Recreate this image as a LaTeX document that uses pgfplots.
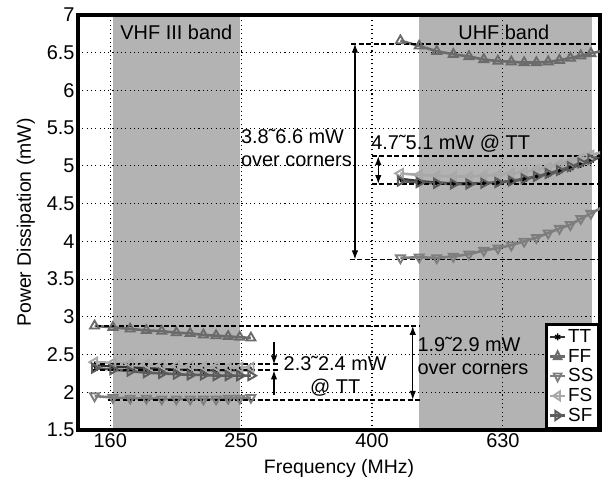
\documentclass[border=0pt]{standalone}
\usepackage{fontspec}
\setmainfont{Liberation Sans}
\usepackage{pgfplots}
\pgfplotsset{compat=1.18}
\usetikzlibrary{arrows.meta}
\definecolor{band}{HTML}{B3B3B3}
\definecolor{ctt}{HTML}{333333}
\definecolor{cff}{HTML}{6B6B6B}
\definecolor{css}{HTML}{7E7E7E}
\definecolor{cfs}{HTML}{A8A8A8}
\definecolor{csf}{HTML}{5C5C5C}

\begin{document}
\begin{tikzpicture}[font=\fontsize{20}{23}\selectfont]
\begin{axis}[
  name=ax, set layers,
  scale only axis, width=522bp, height=415bp,
  xmode=log, xmin=141.5, xmax=888, ymin=1.5, ymax=7,
  xtick={158.49,251.19,398.11,630.96}, xticklabels={160,250,400,630},
  minor xtick={},
  ytick={1.5,2,...,7},
  /pgf/number format/assume math mode=true,
  tick label style={font=\fontsize{20}{23}\selectfont},
  label style={font=\fontsize{19.5}{23}\selectfont},
  grid=major,
  major grid style={black, line width=1.1bp, dash pattern=on 1.1bp off 3.2bp},
  axis line style={line width=3.5bp},
  major tick length=0pt,
  xlabel={Frequency (MHz)}, ylabel={Power Dissipation (mW)},
  xlabel style={yshift=-5bp},
  ylabel style={yshift=5bp},
  unbounded coords=jump,
  legend style={at={(1,0)}, anchor=south east, draw=black, line width=3.2bp,
    inner xsep=3bp, inner ysep=3bp, row sep=0bp, font=\fontsize{19}{20}\selectfont,
    nodes={inner ysep=2.5bp}},
  legend cell align=left,
  legend image post style={xscale=0.85},
  every axis plot/.append style={line width=2.6bp},
]
% frequency bands
\addplot[fill=band, draw=none, on layer=axis background, forget plot]
  coordinates {(160,1.5) (250,1.5) (250,7) (160,7)} -- cycle;
\addplot[fill=band, draw=none, on layer=axis background, forget plot]
  coordinates {(470,1.5) (862,1.5) (862,7) (470,7)} -- cycle;

\addplot[ctt, line width=2.2bp, mark=asterisk, mark size=3.5bp,
  mark options={black, line width=1.3bp}] coordinates {
 (150,2.36) (160,2.34) (170,2.33) (180,2.32) (190,2.31) (200,2.30) (210,2.30) (220,2.29) (230,2.29) (240,2.29) (250,2.29) (260,2.29)
 (300,nan)
 (440,4.83) (470,4.80) (500,4.78) (530,4.77) (560,4.77) (590,4.77) (620,4.78) (650,4.80) (680,4.82) (710,4.86) (740,4.89) (770,4.93) (800,4.97) (830,5.02) (860,5.07) (890,5.12)};
\addlegendentry{TT}
\addplot[cff, mark=triangle, mark size=5.2bp, mark options={line width=1.9bp}] coordinates {
 (150,2.88) (160,2.86) (170,2.84) (180,2.82) (190,2.81) (200,2.79) (210,2.78) (220,2.76) (230,2.75) (240,2.74) (250,2.73) (260,2.72)
 (300,nan)
 (440,6.66) (470,6.59) (500,6.52) (530,6.48) (560,6.45) (590,6.41) (620,6.39) (650,6.38) (680,6.37) (710,6.37) (740,6.38) (770,6.40) (800,6.43) (830,6.46) (860,6.49) (890,6.52)};
\addlegendentry{FF}
\addplot[css, mark=triangle, mark size=5.2bp, mark options={rotate=180, line width=1.9bp}] coordinates {
 (150,1.95) (160,1.93) (170,1.92) (180,1.92) (190,1.91) (200,1.91) (210,1.91) (220,1.91) (230,1.91) (240,1.92) (250,1.92) (260,1.93)
 (300,nan)
 (440,3.78) (470,3.79) (500,3.78) (530,3.80) (560,3.83) (590,3.88) (620,3.91) (650,3.95) (680,4.00) (710,4.05) (740,4.11) (770,4.17) (800,4.22) (830,4.30) (860,4.37) (890,4.44)};
\addlegendentry{SS}
\addplot[cfs, mark=triangle, mark size=5.2bp, mark options={rotate=90, line width=1.9bp}] coordinates {
 (150,2.40) (160,2.39) (170,2.38) (180,2.37) (190,2.36) (200,2.35) (210,2.35) (220,2.34) (230,2.34) (240,2.33) (250,2.33) (260,2.33)
 (300,nan)
 (440,4.90) (470,4.88) (500,4.87) (530,4.86) (560,4.86) (590,4.87) (620,4.88) (650,4.90) (680,4.92) (710,4.95) (740,4.98) (770,5.02) (800,5.06) (830,5.10) (860,5.14) (890,5.18)};
\addlegendentry{FS}
\addplot[csf, mark=triangle, mark size=5.2bp, mark options={rotate=-90, line width=1.9bp}] coordinates {
 (150,2.32) (160,2.30) (170,2.28) (180,2.26) (190,2.25) (200,2.24) (210,2.23) (220,2.23) (230,2.22) (240,2.22) (250,2.22) (260,2.22)
 (300,nan)
 (440,4.80) (470,4.78) (500,4.77) (530,4.76) (560,4.76) (590,4.77) (620,4.78) (650,4.80) (680,4.83) (710,4.86) (740,4.90) (770,4.94) (800,4.99) (830,5.04) (860,5.09) (890,5.14)};
\addlegendentry{SF}

% band names
\node at (axis cs:200,6.77) {VHF III band};
\node at (axis cs:633,6.77) {UHF band};

% range markers
\begin{scope}[line width=1.8bp, dash pattern=on 5bp off 2.5bp]
\draw (axis cs:370,6.62) -- (axis cs:888,6.62);
\draw (axis cs:368,3.76) -- (axis cs:888,3.76);
\draw (axis cs:398,5.13) -- (axis cs:888,5.13);
\draw (axis cs:398,4.76) -- (axis cs:888,4.76);
\draw (axis cs:151,2.88) -- (axis cs:471,2.88);
\draw (axis cs:157,1.90) -- (axis cs:471,1.90);
\draw (axis cs:149,2.37) -- (axis cs:288,2.37);
\draw (axis cs:149,2.29) -- (axis cs:288,2.29);
\end{scope}
\begin{scope}[line width=1.3bp, >={Latex[length=9bp,width=6.5bp]}]
\draw[<->] (axis cs:375,6.62) -- (axis cs:375,3.76);
\draw[<->] (axis cs:407,5.13) -- (axis cs:407,4.76);
\draw[<->] (axis cs:459.5,2.88) -- (axis cs:459.5,1.90);
\draw[->] (axis cs:282,2.67) -- (axis cs:282,2.37);
\draw[->] (axis cs:282,1.96) -- (axis cs:282,2.29);
\end{scope}

\node[anchor=west, align=left, inner sep=0pt] at (axis cs:251,5.24) {3.8˜6.6 mW\\over corners};
\node[anchor=west, inner sep=0pt] at (axis cs:397,5.30) {4.7˜5.1 mW @ TT};
\node[anchor=west, align=left, inner sep=0pt] at (axis cs:467,2.48) {1.9˜2.9 mW\\over corners};
\node[align=center, inner sep=0pt] at (axis cs:349.8,2.215) {2.3˜2.4 mW\\@ TT};
\end{axis}
\pgfresetboundingbox
\path ([shift={(-78bp,-55bp)}]ax.south west) rectangle ++(610bp,485bp);
\end{tikzpicture}
\end{document}
